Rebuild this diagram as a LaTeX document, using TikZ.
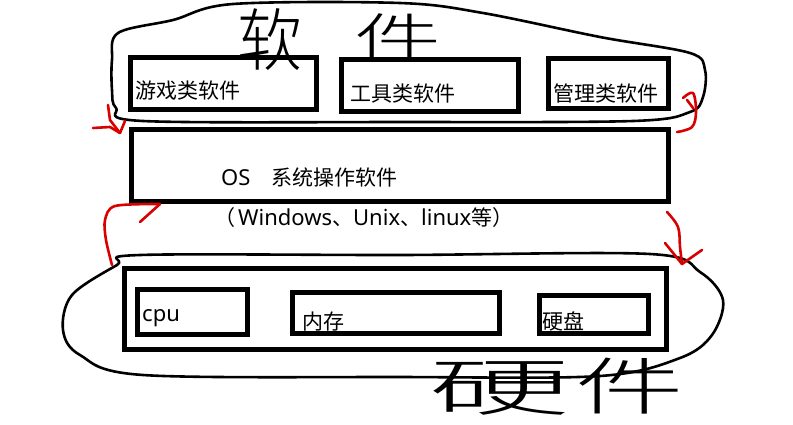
\documentclass[tikz,border=0pt]{standalone}
\usepackage{fontspec}
\setmainfont{Noto Sans CJK SC}
\newfontfamily\latinf{Noto Sans}
\IfFontExistsTF{Noto Sans CJK SC Light}
  {\newfontfamily\handfont{Noto Sans CJK SC Light}}
  {\newfontfamily\handfont{Noto Sans CJK SC}}
\begin{document}
\begin{tikzpicture}[x=1pt,y=-1pt,
  box/.style={draw=black, line width=4.5pt, inner sep=0pt, anchor=north west},
  lbl/.style={inner sep=0pt, font=\fontsize{21}{21}\selectfont, anchor=base west},
  hand/.style={inner sep=0pt, font=\handfont\fontsize{62}{62}\selectfont},
  blob/.style={draw=black, line width=2.6pt, line join=round},
  redline/.style={draw=red!85!black, line width=2.6pt, line cap=round, line join=round}]
\useasboundingbox (0,0) rectangle (793,424);
\fill[white] (0,0) rectangle (793,424);

% software group outline
\draw[blob] plot[smooth cycle, tension=0.55] coordinates {
  (112,60) (118,33) (173,20) (233,4) (400,3) (483,13) (600,37) (690,53)
  (705,70) (703,97) (690,112) (633,121) (400,122) (143,121) (116,108) (112,90)};

% hardware group outline
\draw[blob] plot[smooth cycle, tension=0.55] coordinates {
  (140,255) (400,255) (650,254) (700,272) (723,300) (712,335) (680,358)
  (600,376) (400,377) (143,375) (80,355) (63,330) (72,295) (117,265)};

% software boxes
\node[box, minimum width=186pt, minimum height=52pt] (game) at (128,55) {};
\node[box, minimum width=177pt, minimum height=52pt] (tool) at (339,57) {};
\node[box, minimum width=120pt, minimum height=50pt] (mgmt) at (546,56) {};
\node[lbl] (gameT) at (135,98) {游戏类软件};
\node[lbl] (toolT) at (350,101) {工具类软件};
\node[lbl] (mgmtT) at (553,101) {管理类软件};

% OS box
\node[box, minimum width=537pt, minimum height=72pt] (os) at (129,127) {};
\node[lbl] (osT) at (221,185) {{\latinf\fontsize{22}{22}\selectfont OS}　系统操作软件};
\node[lbl] (osSub) at (214,225) {（\hspace{3pt}{\latinf\fontsize{22}{22}\selectfont Windows}、{\latinf\fontsize{22}{22}\selectfont Unix}、{\latinf\fontsize{22}{22}\selectfont linux}等）};

% hardware boxes
\node[box, minimum width=542pt, minimum height=81pt] (hw) at (122,266) {};
\node[box, minimum width=110pt, minimum height=45pt] (cpu) at (135,287) {};
\node[box, minimum width=207pt, minimum height=41pt] (mem) at (290,290) {};
\node[box, minimum width=109pt, minimum height=38pt] (disk) at (537,293) {};
\node[lbl] (cpuT) at (142,321) {{\latinf\fontsize{22}{22}\selectfont cpu}};
\node[lbl] (memT) at (302,329) {内存};
\node[lbl] (diskT) at (542,329) {硬盘};

% handwritten titles
\node[hand, xscale=1.05, yscale=1.1] (sw1) at (270,40) {软};
\node[hand, xscale=1.4, yscale=0.85] (sw2) at (398,38) {件};
\node[hand, xscale=2.3, yscale=1.0] (hw1) at (500,388) {硬};
\node[hand, xscale=1.75, yscale=1.0] (hw2) at (630,386) {件};

% red arrows
\coordinate (a1) at (120,133);
\draw[redline] (108,105) -- (110,120) -- (a1);
\draw[redline] (93,128) -- (110,127) -- (a1);
\draw[redline] (125,121) -- (a1);

\coordinate (a2) at (677,132);
\draw[redline] plot[smooth, tension=0.6] coordinates {(683,98) (693,93) (696,112) (692,127) (a2)};
\draw[redline] (687,100) -- (693,108);

\coordinate (a3) at (160,204);
\draw[redline] plot[smooth, tension=0.5] coordinates {(112,265) (106,240) (105,220) (115,206) (a3)};
\draw[redline] (a3) -- (140,222);

\coordinate (a4) at (682,264);
\draw[redline] plot[smooth, tension=0.6] coordinates {(667,212) (678,227) (680,247) (a4)};
\draw[redline] (665,243) -- (a4) -- (702,250);
\end{tikzpicture}
\end{document}
